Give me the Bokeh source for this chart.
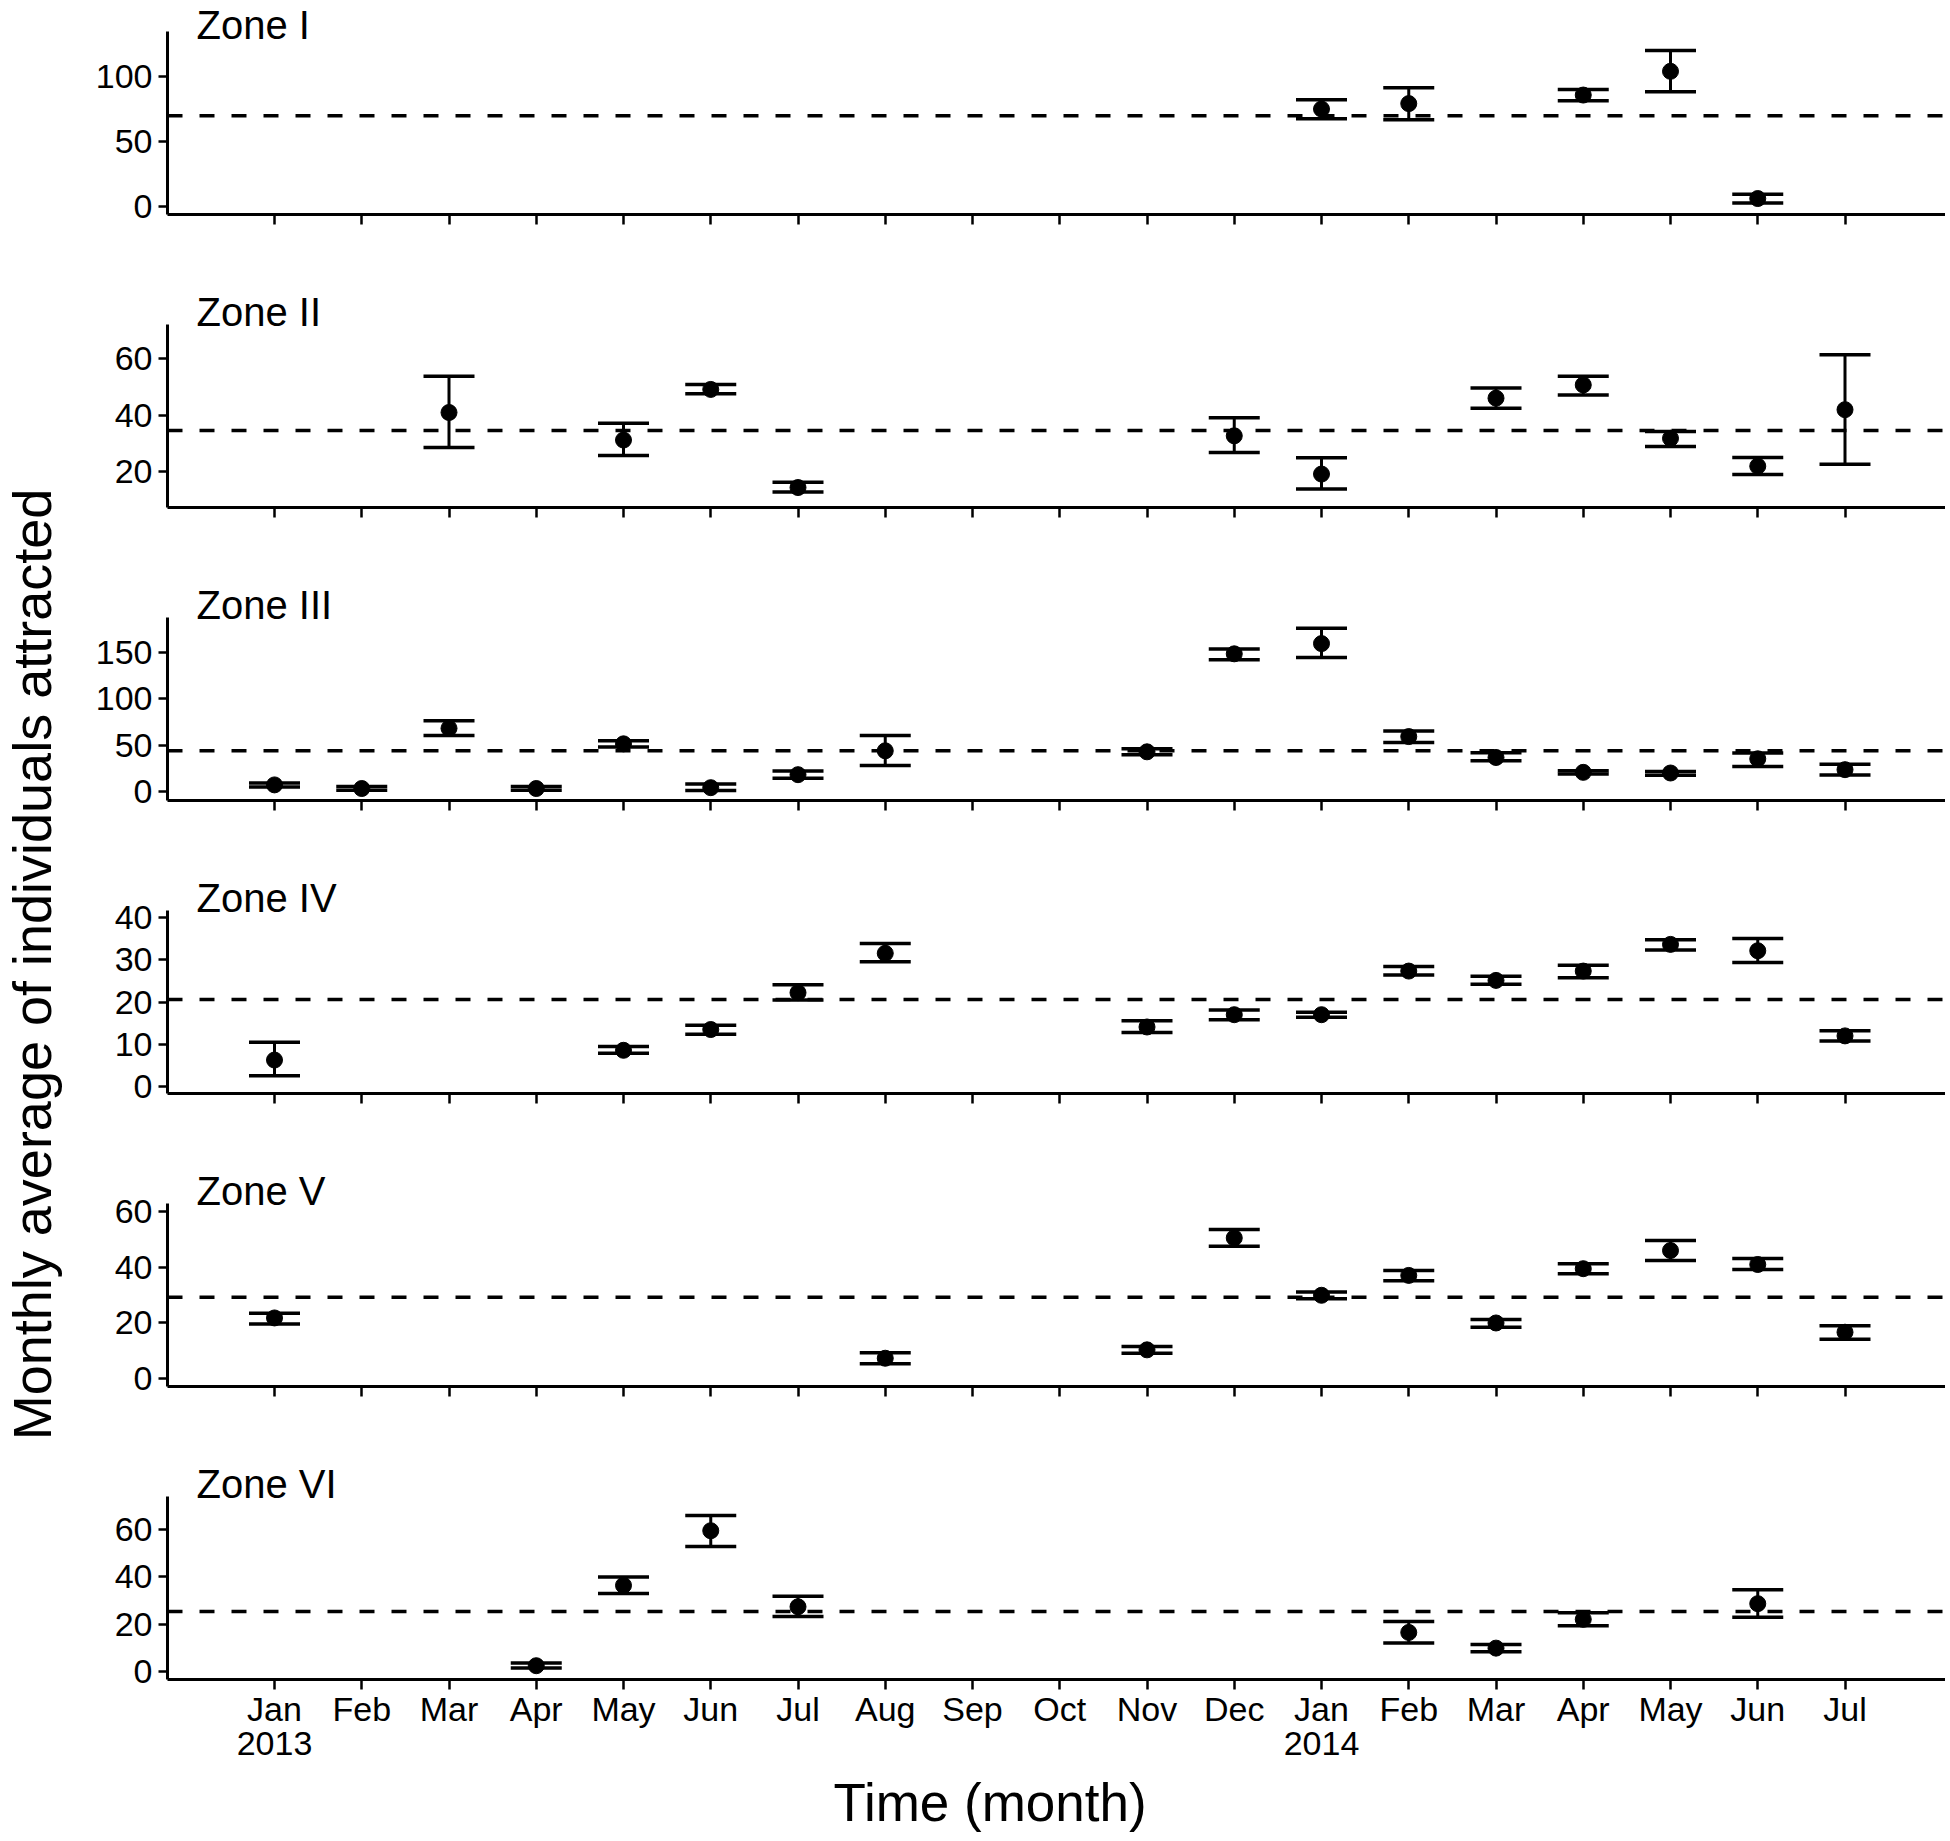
from bokeh.plotting import figure
from bokeh.models import (ColumnDataSource, Whisker, TeeHead, Span,
                          FixedTicker, Range1d, Title)
from bokeh.layouts import row, column
from bokeh.embed import file_html
from bokeh.resources import INLINE
from bokeh.core.properties import value
import math

# ---------------- data ----------------
MONTHS = ["Jan\n2013", "Feb", "Mar", "Apr", "May", "Jun", "Jul", "Aug", "Sep",
          "Oct", "Nov", "Dec", "Jan\n2014", "Feb", "Mar", "Apr", "May", "Jun", "Jul"]

ZONES = ["Zone I", "Zone II", "Zone III", "Zone IV", "Zone V", "Zone VI"]

zone1_month = [12, 13, 15, 16, 17]
zone1_mean = [75.2, 79.4, 86.0, 104.3, 6.2]
zone1_lower = [67.8, 67.0, 81.6, 88.5, 2.8]
zone1_upper = [82.4, 91.6, 90.2, 120.3, 9.5]
zone1_overall = 70.0

zone2_month = [2, 4, 5, 6, 11, 12, 14, 15, 16, 17, 18]
zone2_mean = [40.9, 31.1, 49.1, 14.2, 32.6, 19.0, 46.0, 50.7, 31.7, 21.8, 41.9]
zone2_lower = [28.4, 25.6, 47.6, 12.6, 26.7, 13.7, 42.4, 47.1, 28.8, 18.8, 22.5]
zone2_upper = [53.8, 37.1, 50.9, 16.1, 39.0, 24.8, 49.6, 53.8, 34.1, 24.9, 61.4]
zone2_overall = 34.5

zone3_month = [0, 1, 2, 3, 4, 5, 6, 7, 10, 11, 12, 13, 14, 15, 16, 17, 18]
zone3_mean = [7.5, 3.6, 68.4, 3.6, 51.7, 4.5, 18.5, 44.2, 43.1, 148.6, 159.6,
              59.5, 37.0, 21.0, 20.3, 35.6, 23.9]
zone3_lower = [5.3, 1.6, 60.6, 1.6, 48.4, 1.4, 14.6, 28.5, 39.9, 142.1, 144.6,
               53.1, 33.5, 19.2, 18.0, 27.4, 18.2]
zone3_upper = [9.5, 5.7, 76.6, 5.7, 54.9, 8.5, 22.4, 60.6, 46.3, 153.9, 176.0,
               65.5, 42.0, 22.8, 22.0, 41.7, 29.6]
zone3_overall = 44.2

zone4_month = [0, 4, 5, 6, 7, 10, 11, 12, 13, 14, 15, 16, 17, 18]
zone4_mean = [6.3, 8.6, 13.5, 22.2, 31.5, 14.1, 17.0, 17.0, 27.3, 25.1, 27.3, 33.6, 32.1, 12.0]
zone4_lower = [2.6, 7.9, 12.4, 20.5, 29.5, 12.8, 15.8, 16.4, 26.4, 24.2, 25.7, 32.3, 29.3, 10.8]
zone4_upper = [10.5, 9.5, 14.5, 24.1, 33.8, 15.6, 18.1, 17.6, 28.4, 26.1, 28.7, 34.7, 35.0, 13.2]
zone4_overall = 20.6

zone5_month = [0, 7, 10, 11, 12, 13, 14, 15, 16, 17, 18]
zone5_mean = [21.8, 7.4, 10.4, 50.4, 29.9, 37.0, 20.0, 39.4, 45.9, 40.9, 16.7]
zone5_lower = [19.6, 5.4, 9.2, 47.4, 28.7, 35.1, 18.5, 37.6, 42.3, 39.1, 14.2]
zone5_upper = [23.5, 9.4, 11.6, 53.4, 31.1, 38.8, 21.2, 41.2, 49.5, 43.0, 19.0]
zone5_overall = 29.2

zone6_month = [3, 4, 5, 6, 13, 14, 15, 17]
zone6_mean = [2.5, 36.3, 59.3, 27.3, 16.5, 9.9, 22.0, 28.6]
zone6_lower = [1.5, 32.9, 52.7, 23.2, 12.1, 8.4, 19.3, 22.9]
zone6_upper = [3.6, 39.8, 65.7, 31.7, 21.1, 11.4, 24.8, 34.5]
zone6_overall = 25.3

y_ticks = [[0, 50, 100], [20, 40, 60], [0, 50, 100, 150],
           [0, 10, 20, 30, 40], [0, 20, 40, 60], [0, 20, 40, 60]]
y_limits = [(-6.1, 135.0), (7.1, 72.2), (-9.3, 187.7),
            (-1.6, 41.6), (-2.7, 62.7), (-3.3, 73.7)]

zone_data = [
    (zone1_month, zone1_mean, zone1_lower, zone1_upper, zone1_overall),
    (zone2_month, zone2_mean, zone2_lower, zone2_upper, zone2_overall),
    (zone3_month, zone3_mean, zone3_lower, zone3_upper, zone3_overall),
    (zone4_month, zone4_mean, zone4_lower, zone4_upper, zone4_overall),
    (zone5_month, zone5_mean, zone5_lower, zone5_upper, zone5_overall),
    (zone6_month, zone6_mean, zone6_lower, zone6_upper, zone6_overall),
]

# ---------------- styling / layout ----------------
FONT = "Liberation Sans"
LEFT_W = 64
PANEL_LEFT = 103          # frame left edge at 167 px
FRAME_W = 1778
FRAME_H = 183
PX_PER_MONTH = 87.25
X_START = -(274 - (PANEL_LEFT + LEFT_W)) / PX_PER_MONTH
X_END = X_START + FRAME_W / PX_PER_MONTH
TOPS = [31, 50, 50, 50, 50, 50]
BOTTOMS = [60, 60, 60, 60, 60, 162]
TITLE_STANDOFF = [-30, -18, -18, -18, -18, -18]

figs = []
n = len(ZONES)
for i, (name, (mon, mean, lo, up, overall)) in enumerate(zip(ZONES, zone_data)):
    last = (i == n - 1)
    p = figure(frame_width=FRAME_W, frame_height=FRAME_H,
               x_range=Range1d(X_START, X_END),
               y_range=Range1d(*y_limits[i]),
               output_backend="svg", toolbar_location=None,
               min_border_left=PANEL_LEFT, min_border_right=0,
               min_border_top=TOPS[i], min_border_bottom=BOTTOMS[i])
    p.outline_line_color = None
    p.xgrid.visible = False
    p.ygrid.visible = False
    p.background_fill_color = "white"
    p.border_fill_color = "white"

    for ax in (p.xaxis[0], p.yaxis[0]):
        ax.axis_line_width = 3
        ax.axis_line_color = "black"
        ax.major_tick_line_width = 2.5
        ax.major_tick_line_color = "black"
        ax.major_tick_in = 0
        ax.minor_tick_line_color = None
        ax.major_label_text_font = FONT
        ax.major_label_text_font_size = "34px"
        ax.major_label_text_color = "black"
    p.yaxis[0].major_tick_out = 9
    p.yaxis[0].major_label_standoff = 6
    p.yaxis[0].ticker = FixedTicker(ticks=y_ticks[i])
    p.xaxis[0].major_tick_out = 10
    p.xaxis[0].ticker = FixedTicker(ticks=list(range(len(MONTHS))))
    if last:
        p.xaxis[0].major_label_overrides = {k: m for k, m in enumerate(MONTHS)}
        p.xaxis[0].major_label_standoff = 0
        p.xaxis[0].major_label_text_line_height = 0.9
        t = Title(text="Time (month)", align="left", offset=666,
                  text_font=FONT, text_font_size="53px", text_color="black",
                  text_font_style="normal", standoff=12)
        p.add_layout(t, "below")
    else:
        p.xaxis[0].major_label_overrides = {k: "" for k in range(len(MONTHS))}
        p.xaxis[0].major_label_standoff = 0

    zt = Title(text=name, align="left", offset=29, text_font=FONT,
               text_font_size="40px", text_color="black",
               text_font_style="normal", standoff=TITLE_STANDOFF[i])
    p.add_layout(zt, "above")

    src = ColumnDataSource(dict(x=mon, mean=mean, lower=lo, upper=up))
    p.add_layout(Span(location=overall, dimension="width", line_color="black",
                      line_width=3.5, line_dash="15 17"))
    wh = Whisker(base="x", upper="upper", lower="lower", source=src,
                 line_color="black", line_width=3,
                 upper_head=TeeHead(size=51, line_width=3.5, line_color="black"),
                 lower_head=TeeHead(size=51, line_width=3.5, line_color="black"))
    p.add_layout(wh)
    p.scatter("x", "mean", source=src, size=16, color="black")
    figs.append(p)

total_h = sum(TOPS) + n * FRAME_H + sum(BOTTOMS)
lf = figure(width=LEFT_W, height=total_h, x_range=Range1d(0, LEFT_W),
            y_range=Range1d(0, total_h), output_backend="svg",
            toolbar_location=None, min_border=0)
lf.axis.visible = False
lf.grid.visible = False
lf.outline_line_color = None
lf.text(x=[31], y=[total_h - 964],
        text=["Monthly average of individuals attracted"],
        angle=math.pi / 2, text_align="center", text_baseline="middle",
        text_font=value(FONT), text_font_size="54px", text_color="black")

layout = row(lf, column(*figs, spacing=0), spacing=0)
open("out.html", "w").write(file_html(layout, INLINE))
